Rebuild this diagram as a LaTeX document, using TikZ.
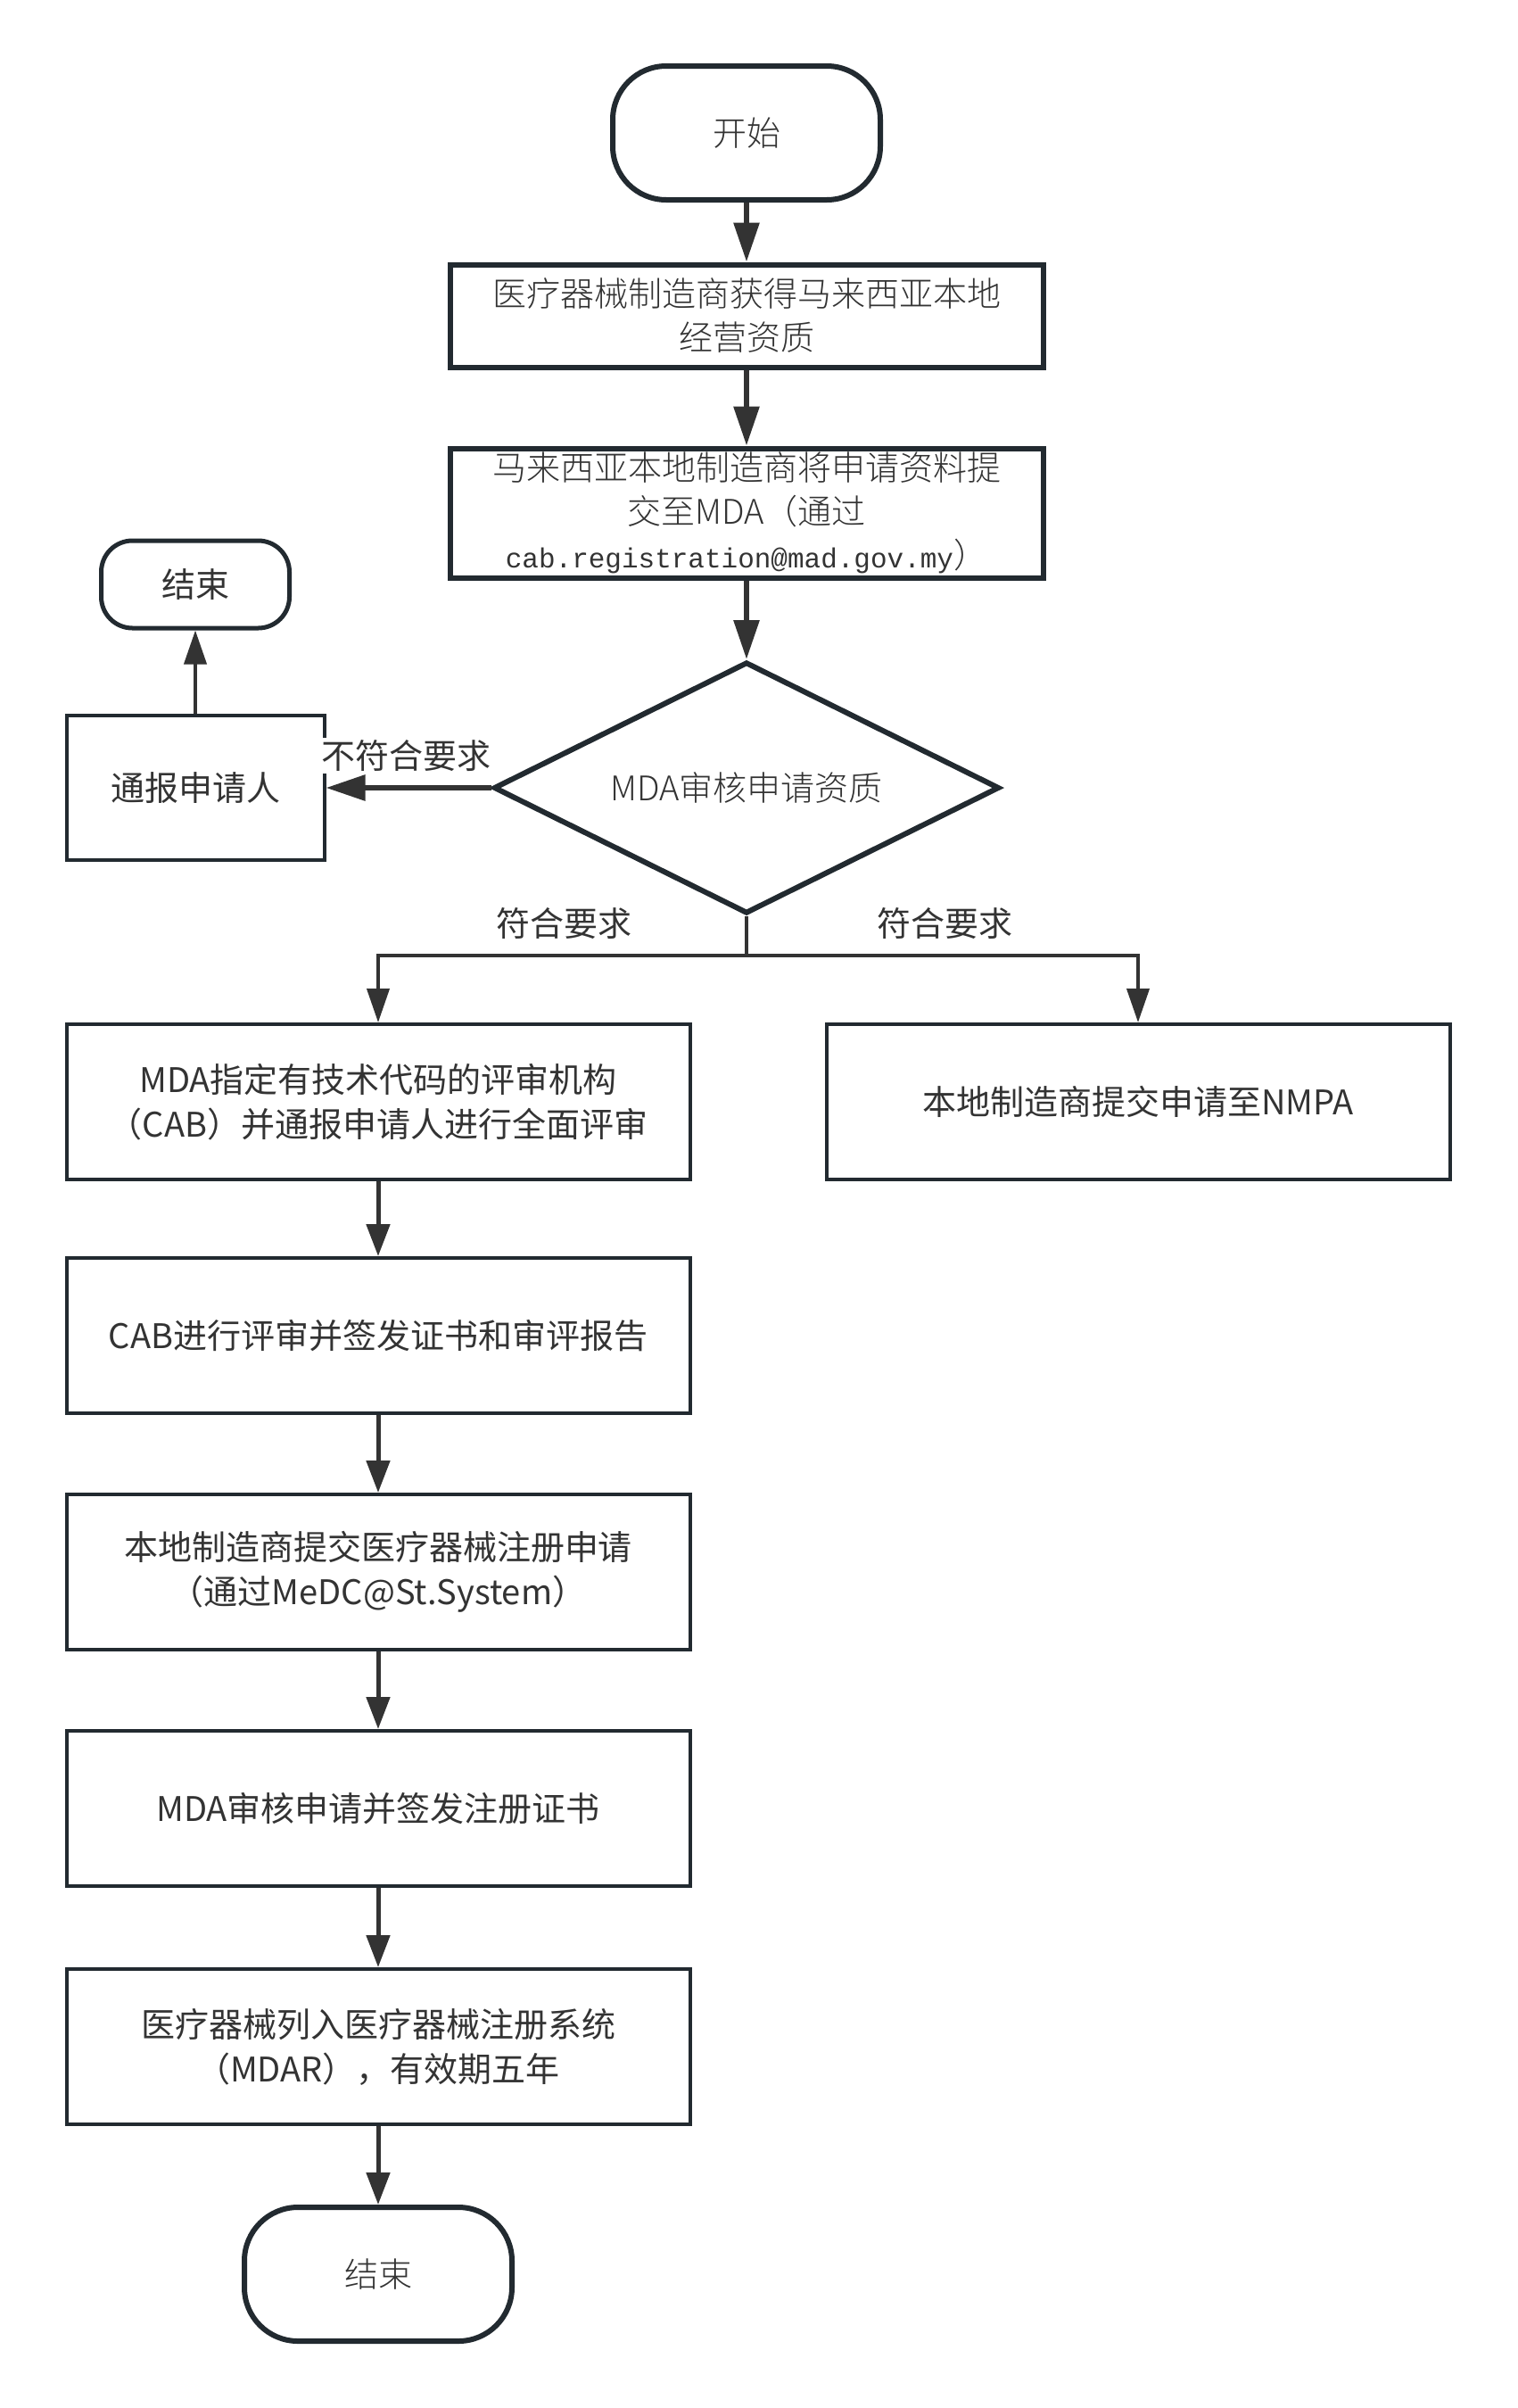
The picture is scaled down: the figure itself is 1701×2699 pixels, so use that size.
\documentclass[tikz,border=0pt]{standalone}
\usepackage{fontspec}
\setmainfont{Noto Sans CJK SC}
\IfFontExistsTF{Noto Sans CJK SC Light}{\newfontfamily\lightcjk{Noto Sans CJK SC Light}}{\newfontfamily\lightcjk{Noto Sans CJK SC}}
\newfontfamily\emailfont{Liberation Mono}
\usetikzlibrary{shapes.geometric,arrows.meta}
\definecolor{bordc}{HTML}{222A30}
\definecolor{arrc}{HTML}{333333}
\definecolor{textc}{HTML}{333333}
\begin{document}
\begin{tikzpicture}[x=1pt,y=-1pt,
  topfont/.style={font=\lightcjk\fontsize{38}{49}\selectfont, text=textc},
  lowfont/.style={font=\fontsize{38}{50}\selectfont, text=textc},
  term/.style={draw=bordc, line width=6pt, rounded corners=60pt, minimum width=300pt, minimum height=150pt, inner sep=0pt},
  termsmall/.style={draw=bordc, line width=5pt, rounded corners=35pt, minimum width=211pt, minimum height=98pt, inner sep=0pt, lowfont},
  topbox/.style={draw=bordc, line width=6pt, minimum width=665pt, align=center, inner sep=2pt, topfont},
  lowbox/.style={draw=bordc, line width=4pt, minimum width=699pt, minimum height=174pt, align=center, inner sep=2pt, lowfont},
  decision/.style={diamond, aspect=2, draw=bordc, line width=6pt, minimum width=567pt, minimum height=282pt, inner sep=0pt, topfont},
  lbl/.style={lowfont, inner sep=2pt},
  arrtop/.style={draw=arrc, line width=6pt, -{Triangle[length=44pt,width=28pt]}},
  arrlow/.style={draw=arrc, line width=5pt, -{Triangle[length=36pt,width=26pt]}},
  arrthin/.style={draw=arrc, line width=4pt, -{Triangle[length=38pt,width=25pt]}}
]
\useasboundingbox (0,0) rectangle (1701,2699);

\node[term, topfont] (start) at (837,149) {开始};
\node[topbox, minimum height=115pt] (b1) at (837,354) {医疗器械制造商获得马来西亚本地\\经营资质};
\node[topbox, minimum height=145pt] (b2) at (837,575) {马来西亚本地制造商将申请资料提\\交至MDA（通过\\{\emailfont\fontsize{31}{49}\selectfont cab.registration@mad.gov.my}）};
\node[decision] (d) at (837,883) {MDA审核申请资质};
\node[lowbox, minimum width=289pt, minimum height=162pt] (notify) at (219,883) {通报申请人};
\node[termsmall] (end1) at (219,655) {结束};

\node[lowbox] (cab1) at (424,1235) {MDA指定有技术代码的评审机构\\（CAB）并通报申请人进行全面评审};
\node[lowbox] (nmpa) at (1276,1235) {本地制造商提交申请至NMPA};
\node[lowbox] (cab2) at (424,1497) {CAB进行评审并签发证书和审评报告};
\node[lowbox] (sub) at (424,1762) {本地制造商提交医疗器械注册申请\\（通过MeDC@St.System）};
\node[lowbox] (rev) at (424,2027) {MDA审核申请并签发注册证书};
\node[lowbox] (list) at (424,2294) {医疗器械列入医疗器械注册系统\\（MDAR），有效期五年};
\node[term, topfont] (end2) at (424,2549) {结束};

\coordinate (j) at (837,1071);

\draw[arrtop] (start) -- (b1);
\draw[arrtop] (b1) -- (b2);
\draw[arrtop] (b2) -- (d);
\draw[arrtop] (d.west) -- (notify.east);
\draw[arrthin] (notify) -- (end1);
\draw[arrthin] (d.south) -- (j) -| (cab1.north);
\draw[arrthin] (j) -| (nmpa.north);

\draw[arrlow] (cab1) -- (cab2);
\draw[arrlow] (cab2) -- (sub);
\draw[arrlow] (sub) -- (rev);
\draw[arrlow] (rev) -- (list);
\draw[arrlow] (list) -- (end2);

\node[lbl, fill=white] (nolbl) at (455,847) {不符合要求};
\node[lbl] (yes1) at (632,1035) {符合要求};
\node[lbl] (yes2) at (1059,1035) {符合要求};
\end{tikzpicture}
\end{document}
